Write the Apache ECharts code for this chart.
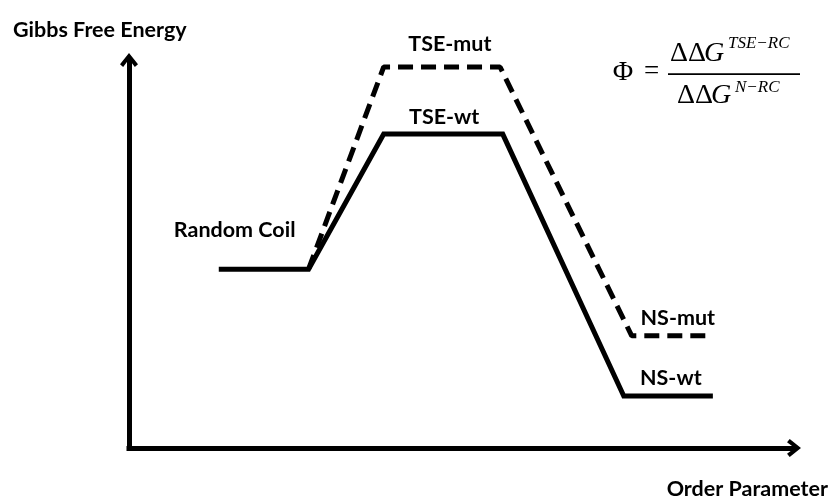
<!DOCTYPE html>
<html><head><meta charset="utf-8">
<script src="https://cdn.jsdelivr.net/npm/echarts@6/dist/echarts.min.js"></script>
<style>html,body{margin:0;padding:0;background:#fff}#c{width:831px;height:499px}</style>
</head><body><div id="c"></div>
<script>
// Order parameter (x) and Gibbs free energy (y), arbitrary units 0-100
const wtX = [13.5, 27, 38.3, 56.2, 74.4, 87.8];
const wtY = [46.1, 46.1, 80.9, 80.9, 13.4, 13.4];
const mutX = [27, 38.3, 55.8, 75.6, 87.8];
const mutY = [46.1, 98.2, 98.2, 28.9, 28.9];
const stateNames = ['Random Coil', 'TSE-wt', 'TSE-mut', 'NS-wt', 'NS-mut'];
// plateau [series, startIndex] for each state label
const statePlateaus = [['wt', 0], ['wt', 2], ['mut', 1], ['wt', 4], ['mut', 3]];
const axisTitles = ['Order Parameter', 'Gibbs Free Energy'];

const series = {wt: [wtX, wtY], mut: [mutX, mutY]};
const labelOffsets = [[-29, -39], [1, -17], [8, -23], [2.5, -17.5], [5.5, -17.5]];
const labelData = stateNames.map((n, i) => {
  const [s, k] = statePlateaus[i];
  const [xs, ys] = series[s];
  return {
    name: n,
    value: [(xs[k] + xs[k + 1]) / 2, ys[k]],
    label: {offset: labelOffsets[i]}
  };
});

const chevron = 'path://M10,0 L20,12.5 L16.5,15.5 L10,7 L3.5,15.5 L0,12.5 Z';
const axisCommon = {
  type: 'value', min: 0, max: 100,
  axisLine: {show: true, symbol: ['none', chevron], symbolSize: [18, 16],
    lineStyle: {color: '#000', width: 5, cap: 'square'}},
  axisTick: {show: false}, axisLabel: {show: false}, splitLine: {show: false}
};
const lab = {fontFamily: 'Lato', fontWeight: 'bold', fontSize: 21.5, color: '#000', textBorderWidth: 0};
const serif = '"Liberation Serif"';
const txt = (t, x, y, font, align) => ({type: 'text', x: x, y: y,
  style: {text: t, font: font, fill: '#000', align: align || 'left', verticalAlign: 'middle'}});

const chart = echarts.init(document.getElementById('c'));
chart.setOption({
  animation: false,
  grid: {left: 129, right: 37, top: 60, bottom: 51},
  xAxis: axisCommon,
  yAxis: axisCommon,
  series: [
    {type: 'line', data: wtX.map((x, i) => [x, wtY[i]]), symbol: 'none', clip: false,
      lineStyle: {color: '#000', width: 5, join: 'miter'}},
    {type: 'line', data: mutX.map((x, i) => [x, mutY[i]]), symbol: 'none', clip: false,
      lineStyle: {color: '#000', width: 5, type: [15, 8]}},
    {type: 'scatter', data: labelData, symbolSize: 0, silent: true,
      itemStyle: {opacity: 1, color: '#000'},
      label: Object.assign({show: true, position: 'inside', formatter: '{b}'}, lab)}
  ],
  graphic: [
    {type: 'text', x: 13, y: 30, style: {text: axisTitles[1], fill: '#000', verticalAlign: 'middle',
      font: 'bold 21.5px Lato'}},
    {type: 'text', x: 828, y: 489, style: {text: axisTitles[0], fill: '#000', align: 'right', verticalAlign: 'middle',
      font: 'bold 21.5px Lato'}},
    txt('Φ', 623, 73, '28px ' + serif, 'center'),
    txt('=', 651.5, 72, '27px ' + serif, 'center'),
    {type: 'rect', shape: {x: 668, y: 73.2, width: 132, height: 1.7}, style: {fill: '#000'}},
    txt('ΔΔ', 670, 54, '28px ' + serif),
    txt('G', 704, 54, 'italic 28px ' + serif),
    txt('TSE−RC', 728, 43.5, 'italic 17px ' + serif),
    txt('ΔΔ', 677, 96, '28px ' + serif),
    txt('G', 711, 96, 'italic 28px ' + serif),
    txt('N−RC', 735, 87.5, 'italic 17px ' + serif)
  ]
});
</script></body></html>
